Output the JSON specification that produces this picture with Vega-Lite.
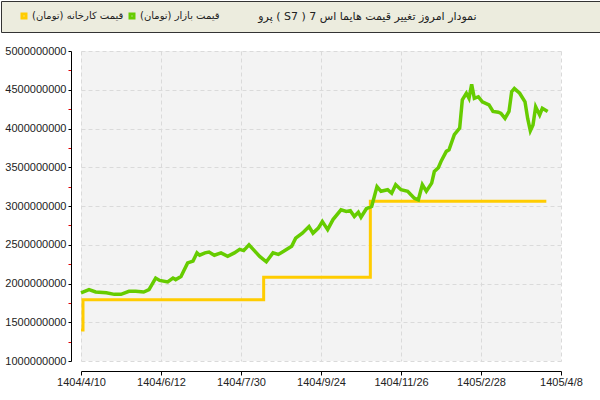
{
  "$schema": "https://vega.github.io/schema/vega-lite/v6.json",
  "padding": 0,
  "spacing": 19,
  "bounds": "flush",
  "background": "#ffffff",
  "config": {
    "font": "Liberation Sans",
    "view": {"stroke": null},
    "axis": {
      "labelFont": "Liberation Sans",
      "labelFontSize": 11,
      "labelColor": "#222222",
      "domainColor": "#000000",
      "tickColor": "#000000",
      "gridColor": "#dadada",
      "gridDash": [4, 3],
      "title": null
    }
  },
  "datasets": {
    "prices": [
      {"t": 0, "v": 1400000000, "s": "factory"},
      {"t": 1.5, "v": 1790000000, "s": "factory"},
      {"t": 137, "v": 2080000000, "s": "factory"},
      {"t": 217, "v": 3060000000, "s": "factory"},
      {"t": 349, "v": 3060000000, "s": "factory"},
      {"t": 0, "v": 1880000000, "s": "market"},
      {"t": 6, "v": 1920000000, "s": "market"},
      {"t": 11, "v": 1890000000, "s": "market"},
      {"t": 19, "v": 1880000000, "s": "market"},
      {"t": 25, "v": 1860000000, "s": "market"},
      {"t": 30, "v": 1860000000, "s": "market"},
      {"t": 36, "v": 1900000000, "s": "market"},
      {"t": 41, "v": 1900000000, "s": "market"},
      {"t": 47, "v": 1890000000, "s": "market"},
      {"t": 51, "v": 1920000000, "s": "market"},
      {"t": 56, "v": 2070000000, "s": "market"},
      {"t": 59, "v": 2040000000, "s": "market"},
      {"t": 65, "v": 2020000000, "s": "market"},
      {"t": 69, "v": 2070000000, "s": "market"},
      {"t": 71, "v": 2050000000, "s": "market"},
      {"t": 75, "v": 2090000000, "s": "market"},
      {"t": 77, "v": 2160000000, "s": "market"},
      {"t": 80, "v": 2265000000, "s": "market"},
      {"t": 84, "v": 2290000000, "s": "market"},
      {"t": 87, "v": 2395000000, "s": "market"},
      {"t": 89, "v": 2365000000, "s": "market"},
      {"t": 93, "v": 2395000000, "s": "market"},
      {"t": 96, "v": 2405000000, "s": "market"},
      {"t": 100, "v": 2365000000, "s": "market"},
      {"t": 105, "v": 2395000000, "s": "market"},
      {"t": 110, "v": 2350000000, "s": "market"},
      {"t": 115, "v": 2395000000, "s": "market"},
      {"t": 119, "v": 2440000000, "s": "market"},
      {"t": 122, "v": 2425000000, "s": "market"},
      {"t": 126, "v": 2500000000, "s": "market"},
      {"t": 130, "v": 2425000000, "s": "market"},
      {"t": 134, "v": 2350000000, "s": "market"},
      {"t": 139, "v": 2280000000, "s": "market"},
      {"t": 144, "v": 2395000000, "s": "market"},
      {"t": 148, "v": 2375000000, "s": "market"},
      {"t": 152, "v": 2415000000, "s": "market"},
      {"t": 158, "v": 2480000000, "s": "market"},
      {"t": 161, "v": 2585000000, "s": "market"},
      {"t": 166, "v": 2650000000, "s": "market"},
      {"t": 171, "v": 2735000000, "s": "market"},
      {"t": 174, "v": 2650000000, "s": "market"},
      {"t": 178, "v": 2715000000, "s": "market"},
      {"t": 181, "v": 2800000000, "s": "market"},
      {"t": 185, "v": 2695000000, "s": "market"},
      {"t": 189, "v": 2825000000, "s": "market"},
      {"t": 195, "v": 2950000000, "s": "market"},
      {"t": 199, "v": 2930000000, "s": "market"},
      {"t": 202, "v": 2940000000, "s": "market"},
      {"t": 205, "v": 2865000000, "s": "market"},
      {"t": 208, "v": 2920000000, "s": "market"},
      {"t": 210, "v": 2855000000, "s": "market"},
      {"t": 214, "v": 2965000000, "s": "market"},
      {"t": 218, "v": 2995000000, "s": "market"},
      {"t": 222, "v": 3250000000, "s": "market"},
      {"t": 225, "v": 3190000000, "s": "market"},
      {"t": 230, "v": 3210000000, "s": "market"},
      {"t": 233, "v": 3165000000, "s": "market"},
      {"t": 236, "v": 3275000000, "s": "market"},
      {"t": 240, "v": 3210000000, "s": "market"},
      {"t": 245, "v": 3190000000, "s": "market"},
      {"t": 250, "v": 3100000000, "s": "market"},
      {"t": 253, "v": 3080000000, "s": "market"},
      {"t": 256, "v": 3275000000, "s": "market"},
      {"t": 259, "v": 3190000000, "s": "market"},
      {"t": 263, "v": 3295000000, "s": "market"},
      {"t": 265, "v": 3445000000, "s": "market"},
      {"t": 268, "v": 3495000000, "s": "market"},
      {"t": 270, "v": 3575000000, "s": "market"},
      {"t": 274, "v": 3705000000, "s": "market"},
      {"t": 276, "v": 3725000000, "s": "market"},
      {"t": 280, "v": 3920000000, "s": "market"},
      {"t": 284, "v": 4005000000, "s": "market"},
      {"t": 286, "v": 4370000000, "s": "market"},
      {"t": 289, "v": 4455000000, "s": "market"},
      {"t": 291, "v": 4390000000, "s": "market"},
      {"t": 293, "v": 4570000000, "s": "market"},
      {"t": 295, "v": 4390000000, "s": "market"},
      {"t": 298, "v": 4410000000, "s": "market"},
      {"t": 301, "v": 4345000000, "s": "market"},
      {"t": 306, "v": 4305000000, "s": "market"},
      {"t": 309, "v": 4220000000, "s": "market"},
      {"t": 313, "v": 4210000000, "s": "market"},
      {"t": 315, "v": 4195000000, "s": "market"},
      {"t": 318, "v": 4130000000, "s": "market"},
      {"t": 321, "v": 4220000000, "s": "market"},
      {"t": 323, "v": 4475000000, "s": "market"},
      {"t": 325, "v": 4515000000, "s": "market"},
      {"t": 329, "v": 4455000000, "s": "market"},
      {"t": 333, "v": 4345000000, "s": "market"},
      {"t": 335, "v": 4130000000, "s": "market"},
      {"t": 337, "v": 3970000000, "s": "market"},
      {"t": 339, "v": 4045000000, "s": "market"},
      {"t": 341, "v": 4280000000, "s": "market"},
      {"t": 344, "v": 4175000000, "s": "market"},
      {"t": 346, "v": 4260000000, "s": "market"},
      {"t": 350, "v": 4220000000, "s": "market"}
    ]
  },
  "vconcat": [
    {
      "width": 599,
      "height": 31,
      "view": {"fill": "#ECECDE", "stroke": "#333333", "strokeWidth": 1},
      "data": {"values": [{"title": "\u202bنمودار امروز تغییر قیمت هایما اس 7 ( S7 ) پرو\u202c"}]},
      "mark": {"type": "text", "align": "right", "baseline": "middle", "dx": 176, "font": "DejaVu Sans", "fontSize": 11, "color": "#222222"},
      "encoding": {"text": {"field": "title"}}
    },
    {
      "bounds": "flush",
      "spacing": 10,
      "hconcat": [
        {
          "width": 70,
          "height": 310,
          "data": {"values": []},
          "mark": "point"
        },
        {
          "width": 480,
          "height": 310,
          "view": {"fill": "#f3f3f3"},
          "data": {"name": "prices"},
          "encoding": {
            "x": {
              "field": "t",
              "type": "quantitative",
              "scale": {"domain": [0, 360], "nice": false, "zero": false},
              "axis": {
                "values": [0, 60, 120, 180, 240, 300, 360],
                "labelExpr": "['1404/4/10','1404/6/12','1404/7/30','1404/9/24','1404/11/26','1405/2/28','1405/4/8'][datum.value/60]",
                "labelFlush": false,
                "labelOverlap": false,
                "offset": 10,
                "tickSize": 4,
                "labelPadding": 1,
                "grid": true
              }
            },
            "y": {
              "field": "v",
              "type": "quantitative",
              "scale": {"domain": [1000000000, 5000000000], "nice": false, "zero": false},
              "axis": {
                "values": [1000000000, 1250000000, 1500000000, 1750000000, 2000000000, 2250000000, 2500000000, 2750000000, 3000000000, 3250000000, 3500000000, 3750000000, 4000000000, 4250000000, 4500000000, 4750000000, 5000000000],
                "format": "d",
                "labelExpr": "datum.value % 500000000 === 0 ? datum.label : ''",
                "tickColor": {"condition": {"test": "datum.value % 500000000 !== 0", "value": "#e00000"}, "value": "#000000"},
                "gridOpacity": {"condition": {"test": "datum.value % 500000000 !== 0", "value": 0}, "value": 1},
                "offset": 10,
                "tickSize": 3,
                "labelPadding": 2,
                "grid": true
              }
            },
            "color": {
              "field": "s",
              "type": "nominal",
              "scale": {"domain": ["factory", "market"], "range": ["#FFCC00", "#66CC00"]},
              "legend": {
                "orient": "none",
                "legendX": 18,
                "legendY": 10,
                "direction": "horizontal",
                "title": null,
                "symbolType": "square",
                "symbolSize": 16,
                "symbolStrokeWidth": 3,
                "labelFont": "DejaVu Sans",
                "labelFontSize": 10,
                "labelColor": "#222222",
                "labelOffset": 3,
                "columnPadding": 0,
                "padding": 0,
                "labelExpr": "datum.value === 'factory' ? '\u202bقیمت کارخانه (تومان)\u202c' : '\u202bقیمت بازار (تومان)\u202c'"
              }
            }
          },
          "layer": [
            {
              "transform": [{"filter": "datum.s === 'factory'"}],
              "mark": {"type": "line", "interpolate": "step-after", "strokeWidth": 3}
            },
            {
              "transform": [{"filter": "datum.s === 'market'"}],
              "mark": {"type": "line", "strokeWidth": 3.5}
            }
          ]
        }
      ]
    }
  ]
}
